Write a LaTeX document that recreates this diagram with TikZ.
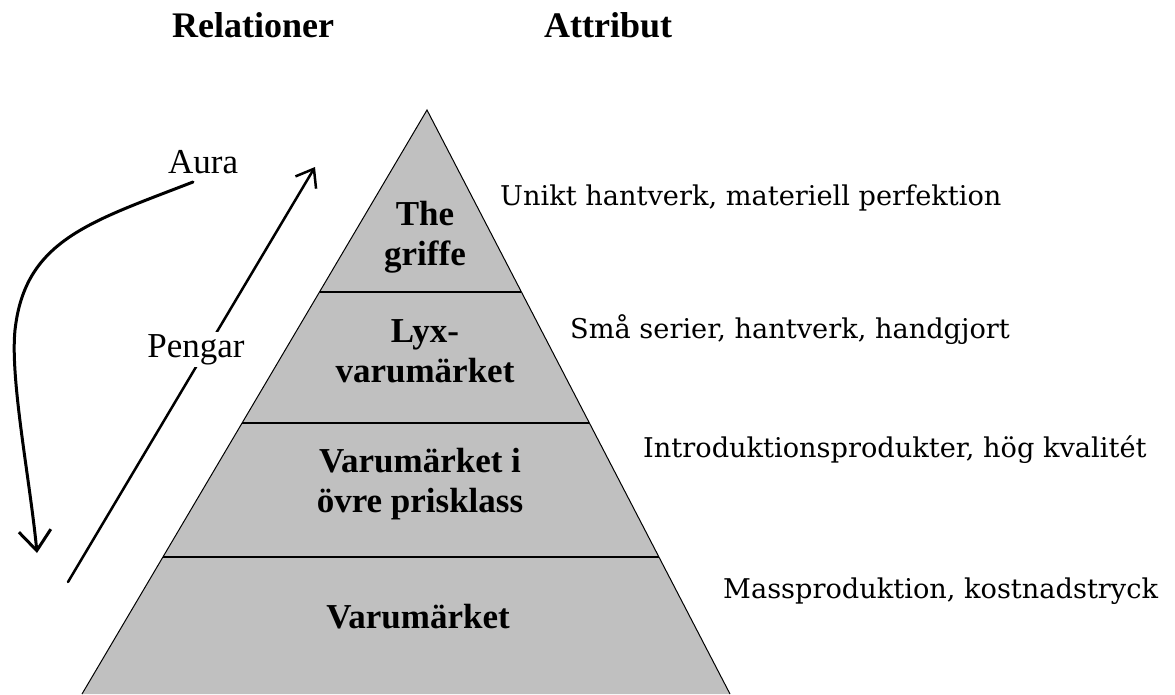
\documentclass[tikz,border=0pt]{standalone}
\usepackage{fontspec}
\setmainfont{Liberation Serif}
\newfontfamily\attrfont{DejaVu Serif}
\usetikzlibrary{arrows.meta,calc}
\definecolor{pyrgray}{HTML}{C0C0C0}
\tikzset{
  headlabel/.style={font=\fontsize{36}{40}\selectfont\bfseries, anchor=base west, inner sep=0pt},
  levellabel/.style={font=\fontsize{35}{40}\selectfont\bfseries, align=center, inner sep=0pt},
  attrlabel/.style={font=\attrfont\fontsize{27.2}{33}\selectfont, anchor=base west, inner sep=0pt},
  sidelabel/.style={font=\fontsize{35}{40}\selectfont, inner sep=0pt},
  pyredge/.style={line width=1pt},
  bandline/.style={line width=1.8pt},
  auraarrow/.style={line width=3pt, line cap=round, -{Straight Barb[length=20pt,width=32pt]}},
  pengararrow/.style={line width=2.5pt, line cap=round, -{Straight Barb[length=16pt,width=24pt]}}
}
\begin{document}
\begin{tikzpicture}[x=1pt,y=-1pt]
\useasboundingbox (0,0) rectangle (1175,694);
\clip (0,0) rectangle (1175,694);
% pyramid
\coordinate (apex) at (427,110);
\coordinate (bl) at (82,694);
\coordinate (br) at (730,694);
\fill[pyrgray] (apex) -- (bl) -- (br) -- cycle;
\draw[pyredge] (bl) -- (apex) -- (br);
\coordinate (l1) at ($(apex)!0.3116!(bl)$);
\coordinate (r1) at ($(apex)!0.3116!(br)$);
\coordinate (l2) at ($(apex)!0.5360!(bl)$);
\coordinate (r2) at ($(apex)!0.5360!(br)$);
\coordinate (l3) at ($(apex)!0.7654!(bl)$);
\coordinate (r3) at ($(apex)!0.7654!(br)$);
\draw[bandline] (l1) -- (r1);
\draw[bandline] (l2) -- (r2);
\draw[bandline] (l3) -- (r3);
% level labels
\node[levellabel] (griffe) at (425,236.9) {The\\griffe};
\node[levellabel] (lyx) at (425,351.5) {Lyx-\\varumärket};
\node[levellabel] (ovre) at (420,484.3) {Varumärket i\\övre prisklass};
\node[levellabel, anchor=base] (varu) at (418,628) {Varumärket};
% headings
\node[headlabel] (rel) at (172,37) {Relationer};
\node[headlabel] (attr) at (544,37) {Attribut};
% attributes
\node[attrlabel] (a1) at (500,205) {Unikt hantverk, materiell perfektion};
\node[attrlabel] (a2) at (570,338) {Små serier, hantverk, handgjort};
\node[attrlabel] (a3) at (643,457) {Introduktionsprodukter, hög kvalitét};
\node[attrlabel] (a4) at (723,598) {Massproduktion, kostnadstryck};
% Aura
\node[sidelabel, anchor=base west] (aura) at (168,173) {Aura};
\coordinate (aurastart) at (193,182);
\coordinate (auraend) at (37,553);
\draw[auraarrow] (aurastart) .. controls (90,222) and (25,240) .. (15,330)
  .. controls (10,380) and (30,480) .. (auraend);
% Pengar
\coordinate (pstart) at (68,582);
\coordinate (pend) at (315,167);
\draw[pengararrow] (pstart) -- (pend);
\node[sidelabel, fill=white, inner sep=2pt, anchor=base] (pengar) at (196,357) {Pengar};
\end{tikzpicture}
\end{document}
